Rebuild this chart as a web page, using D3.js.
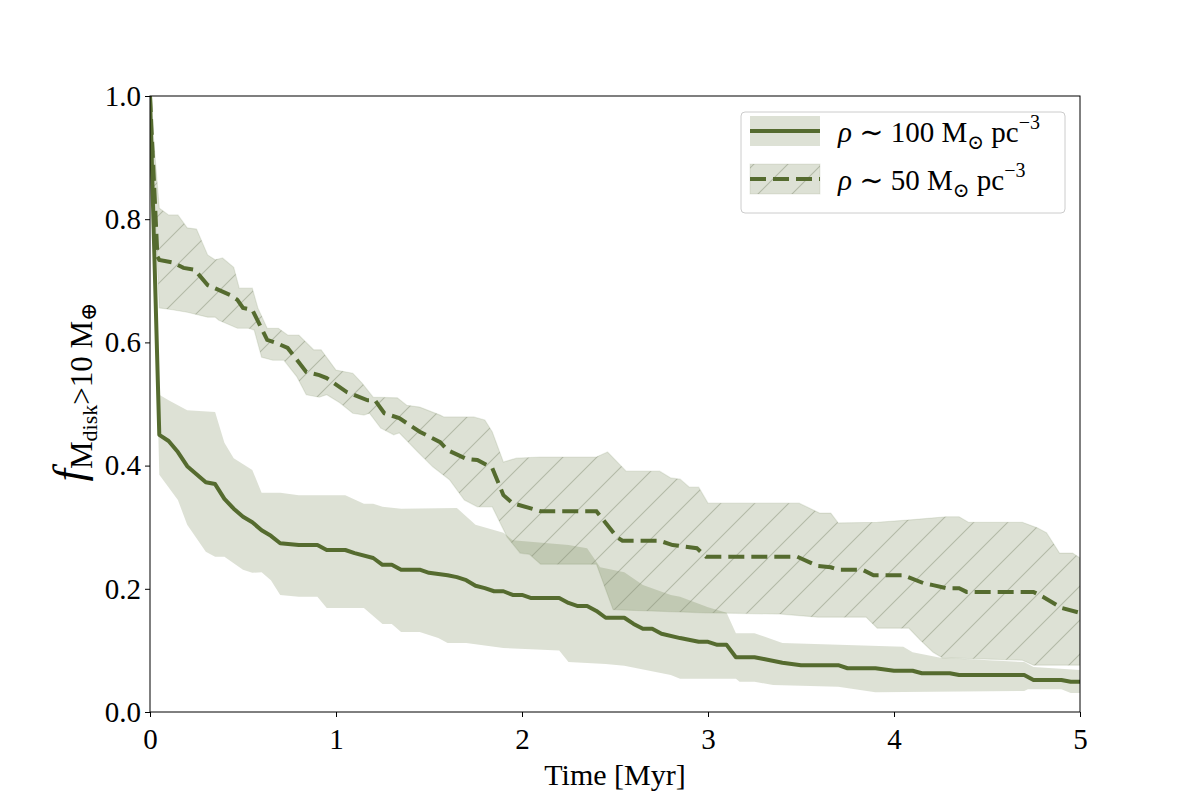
<!DOCTYPE html>
<html>
<head>
<meta charset="utf-8">
<script src="https://cdn.jsdelivr.net/npm/d3@7"></script>
<style>
  body { margin: 0; background: #fff; }
  svg { font-family: "Liberation Serif", "DejaVu Serif", serif; }
</style>
</head>
<body>
<svg id="chart" width="1200" height="800"></svg>
<script>
// rho ~ 100 Msun pc^-3 : median and spread [time Myr, fraction]
const median100 = [[0,1.0],[0.05,0.45],[0.1,0.44],[0.15,0.422],[0.2,0.399],[0.25,0.386],[0.3,0.373],[0.35,0.37],[0.4,0.346],[0.45,0.33],[0.5,0.317],[0.55,0.308],[0.6,0.295],[0.65,0.286],[0.7,0.274],[0.8,0.271],[0.9,0.271],[0.95,0.263],[1.05,0.263],[1.1,0.258],[1.2,0.25],[1.25,0.239],[1.3,0.239],[1.35,0.231],[1.45,0.231],[1.5,0.226],[1.6,0.222],[1.65,0.219],[1.7,0.214],[1.75,0.205],[1.8,0.201],[1.85,0.196],[1.9,0.196],[1.95,0.19],[2.0,0.19],[2.05,0.185],[2.2,0.185],[2.25,0.177],[2.3,0.172],[2.35,0.172],[2.4,0.164],[2.45,0.153],[2.55,0.153],[2.6,0.143],[2.65,0.135],[2.7,0.135],[2.75,0.127],[2.85,0.12],[2.95,0.114],[3.0,0.114],[3.05,0.109],[3.1,0.109],[3.15,0.089],[3.25,0.089],[3.3,0.086],[3.4,0.08],[3.5,0.076],[3.7,0.076],[3.75,0.071],[3.9,0.071],[4.0,0.067],[4.1,0.067],[4.15,0.063],[4.3,0.063],[4.35,0.06],[4.7,0.06],[4.75,0.052],[4.9,0.052],[4.95,0.049],[5.0,0.049]]
const upper100 = [[0,1.0],[0.05,0.515],[0.1,0.506],[0.2,0.49],[0.35,0.487],[0.4,0.437],[0.45,0.412],[0.55,0.393],[0.6,0.356],[0.7,0.356],[0.8,0.352],[1.05,0.352],[1.15,0.338],[1.2,0.338],[1.25,0.333],[1.35,0.33],[1.65,0.331],[1.75,0.304],[1.9,0.291],[1.95,0.279],[2.25,0.271],[2.35,0.266],[2.42,0.235],[2.55,0.227],[2.65,0.206],[2.8,0.19],[2.85,0.187],[3.0,0.17],[3.1,0.161],[3.15,0.128],[3.25,0.128],[3.4,0.112],[4.05,0.106],[4.1,0.097],[4.25,0.088],[4.7,0.081],[4.75,0.073],[5.0,0.068]]
const lower100 = [[0,1.0],[0.05,0.385],[0.15,0.344],[0.2,0.304],[0.3,0.26],[0.35,0.252],[0.4,0.252],[0.5,0.231],[0.55,0.226],[0.6,0.227],[0.65,0.214],[0.7,0.19],[0.8,0.187],[0.9,0.187],[0.95,0.169],[1.15,0.169],[1.25,0.143],[1.3,0.143],[1.35,0.13],[1.45,0.13],[1.55,0.12],[1.6,0.112],[1.7,0.112],[1.9,0.104],[2.2,0.1],[2.25,0.081],[2.45,0.078],[2.55,0.075],[2.8,0.06],[2.85,0.054],[3.15,0.054],[3.17,0.049],[3.25,0.049],[3.35,0.044],[3.7,0.041],[3.9,0.032],[4.7,0.034],[4.72,0.037],[4.9,0.037],[4.95,0.031],[5.0,0.031]]

// rho ~ 50 Msun pc^-3
const median50 = [[0,1.0],[0.04,0.739],[0.05,0.734],[0.12,0.73],[0.18,0.721],[0.24,0.718],[0.31,0.693],[0.43,0.677],[0.47,0.669],[0.5,0.656],[0.55,0.653],[0.63,0.604],[0.68,0.599],[0.74,0.591],[0.84,0.552],[0.91,0.547],[0.95,0.542],[1.06,0.519],[1.17,0.506],[1.21,0.506],[1.26,0.485],[1.34,0.477],[1.45,0.455],[1.56,0.438],[1.6,0.425],[1.7,0.411],[1.76,0.409],[1.84,0.396],[1.9,0.352],[1.95,0.339],[2.1,0.326],[2.4,0.326],[2.51,0.284],[2.54,0.278],[2.74,0.278],[2.81,0.271],[2.94,0.266],[2.99,0.252],[3.48,0.252],[3.59,0.237],[3.66,0.235],[3.7,0.231],[3.83,0.231],[3.89,0.222],[4.05,0.222],[4.16,0.209],[4.21,0.206],[4.28,0.201],[4.35,0.201],[4.39,0.195],[4.75,0.195],[4.8,0.187],[4.9,0.169],[5.0,0.161]]
const upper50 = [[0,1.0],[0.05,0.818],[0.1,0.807],[0.15,0.807],[0.2,0.786],[0.25,0.784],[0.31,0.742],[0.35,0.734],[0.39,0.737],[0.45,0.722],[0.48,0.688],[0.55,0.688],[0.58,0.656],[0.63,0.623],[0.69,0.623],[0.74,0.612],[0.8,0.612],[0.88,0.588],[0.92,0.588],[1.0,0.555],[1.09,0.55],[1.14,0.534],[1.2,0.511],[1.33,0.51],[1.38,0.498],[1.45,0.495],[1.56,0.482],[1.58,0.479],[1.74,0.479],[1.8,0.474],[1.84,0.455],[1.9,0.406],[1.97,0.412],[2.1,0.414],[2.4,0.414],[2.46,0.422],[2.56,0.391],[2.74,0.391],[2.8,0.38],[2.85,0.378],[2.9,0.365],[2.95,0.365],[3.0,0.339],[3.49,0.339],[3.6,0.323],[3.66,0.323],[3.7,0.307],[3.91,0.308],[4.09,0.312],[4.28,0.317],[4.35,0.317],[4.4,0.308],[4.69,0.308],[4.77,0.299],[4.82,0.291],[4.89,0.258],[4.96,0.258],[5.0,0.25]]
const lower50 = [[0,1.0],[0.05,0.656],[0.12,0.653],[0.2,0.649],[0.31,0.641],[0.35,0.641],[0.37,0.636],[0.47,0.623],[0.53,0.623],[0.56,0.62],[0.6,0.576],[0.66,0.571],[0.72,0.571],[0.79,0.544],[0.84,0.515],[0.91,0.511],[0.95,0.515],[1.02,0.502],[1.09,0.485],[1.15,0.482],[1.18,0.485],[1.24,0.461],[1.31,0.45],[1.34,0.453],[1.44,0.422],[1.52,0.398],[1.61,0.377],[1.69,0.344],[1.76,0.333],[1.84,0.333],[1.92,0.284],[1.99,0.258],[2.04,0.256],[2.1,0.24],[2.4,0.24],[2.49,0.166],[2.99,0.161],[3.39,0.159],[3.59,0.154],[3.85,0.154],[3.91,0.136],[4.08,0.136],[4.14,0.117],[4.21,0.097],[4.26,0.088],[4.69,0.084],[4.75,0.076],[5.0,0.076]]

const xTicks = [0, 1, 2, 3, 4, 5]
const yTicks = [0, 0.2, 0.4, 0.6, 0.8, 1.0]

const green = '#556b2f'
const margin = {left: 150, right: 120, top: 96, bottom: 88}
const W = 1200, H = 800

const svg = d3.select('#chart')

const x = d3.scaleLinear().domain([0, 5]).range([margin.left, W - margin.right])
const y = d3.scaleLinear().domain([0, 1]).range([H - margin.bottom, margin.top])

// hatch pattern for the 50 band
const defs = svg.append('defs')
const hatch = defs.append('pattern')
  .attr('id', 'hatch')
  .attr('patternUnits', 'userSpaceOnUse')
  .attr('width', 34).attr('height', 34)
hatch.append('path')
  .attr('d', 'M0,34 L34,0 M-5,5 L5,-5 M29,39 L39,29')
  .attr('stroke', '#7f8a6e').attr('stroke-opacity', 0.45).attr('stroke-width', 1.1)

defs.append('clipPath').attr('id', 'plotclip')
  .append('rect')
  .attr('x', x(0)).attr('y', y(1))
  .attr('width', x(5) - x(0)).attr('height', y(0) - y(1))

const line = d3.line().x(d => x(d[0])).y(d => y(d[1]))
const bandPath = (up, lo) => line(up.concat(lo.slice().reverse())) + 'Z'

const plot = svg.append('g').attr('clip-path', 'url(#plotclip)')

// band rho~100 (no edge)
plot.append('path')
  .attr('d', bandPath(upper100, lower100))
  .attr('fill', green).attr('fill-opacity', 0.2)

// band rho~50 with hatching and edge
plot.append('path')
  .attr('d', bandPath(upper50, lower50))
  .attr('fill', green).attr('fill-opacity', 0.2)
  .attr('stroke', green).attr('stroke-opacity', 0.12).attr('stroke-width', 1.2)
plot.append('path')
  .attr('d', bandPath(upper50, lower50))
  .attr('fill', 'url(#hatch)')

plot.append('path')
  .attr('d', line(median100))
  .attr('fill', 'none').attr('stroke', green).attr('stroke-width', 4)
  .attr('stroke-linejoin', 'round')

plot.append('path')
  .attr('d', line(median50))
  .attr('fill', 'none').attr('stroke', green).attr('stroke-width', 4)
  .attr('stroke-dasharray', '16,7')

// axes
const xAxis = d3.axisBottom(x).tickValues(xTicks).tickFormat(d3.format('d')).tickSize(5).tickSizeOuter(0)
const yAxis = d3.axisLeft(y).tickValues(yTicks).tickFormat(d3.format('.1f')).tickSize(5).tickSizeOuter(0)

const gx = svg.append('g').attr('transform', `translate(0,${y(0)})`).call(xAxis)
const gy = svg.append('g').attr('transform', `translate(${x(0)},0)`).call(yAxis)
gx.select('.domain').remove()
gy.select('.domain').remove()
;[gx, gy].forEach(g => {
  g.selectAll('line').attr('stroke', '#000').attr('stroke-width', 1)
  g.selectAll('text').attr('font-family', '"Liberation Serif", serif').attr('font-size', 29).attr('fill', '#000')
})
gx.selectAll('text').attr('dy', '0.95em').attr('y', 9)
gy.selectAll('text').attr('x', -9)

svg.append('rect')
  .attr('x', x(0)).attr('y', y(1))
  .attr('width', x(5) - x(0)).attr('height', y(0) - y(1))
  .attr('fill', 'none').attr('stroke', '#000').attr('stroke-width', 1)

// axis labels
svg.append('text')
  .attr('x', (x(0) + x(5)) / 2).attr('y', 785)
  .attr('text-anchor', 'middle').attr('font-size', 30)
  .text('Time [Myr]')

const yl = svg.append('text')
  .attr('transform', `translate(84,${(y(0) + y(1)) / 2 - 12}) rotate(-90)`)
  .attr('text-anchor', 'middle')
yl.append('tspan').attr('font-style', 'italic').attr('font-size', 45).text('f')
yl.append('tspan').attr('font-size', 31).attr('dy', 8).text('M')
yl.append('tspan').attr('font-size', 22).attr('dy', 5).text('disk')
yl.append('tspan').attr('font-size', 31).attr('dy', -5).text('>10 M')
yl.append('tspan').attr('font-size', 22).attr('dy', 4).text('⊕')

// legend
const lg = svg.append('g')
lg.append('rect')
  .attr('x', 741).attr('y', 112).attr('width', 324).attr('height', 101)
  .attr('rx', 4).attr('fill', '#fff').attr('fill-opacity', 0.8)
  .attr('stroke', '#ccc').attr('stroke-width', 1)

const legendItems = [
  {label: '100', dashed: false, yc: 131},
  {label: '50', dashed: true, yc: 179}
]
legendItems.forEach(it => {
  lg.append('rect')
    .attr('x', 750).attr('y', it.yc - 15).attr('width', 70).attr('height', 30)
    .attr('fill', green).attr('fill-opacity', 0.2)
    .attr('stroke', it.dashed ? green : 'none').attr('stroke-opacity', 0.12)
  if (it.dashed) {
    lg.append('rect')
      .attr('x', 750).attr('y', it.yc - 15).attr('width', 70).attr('height', 30)
      .attr('fill', 'url(#hatch)')
  }
  lg.append('line')
    .attr('x1', 750).attr('x2', 820).attr('y1', it.yc).attr('y2', it.yc)
    .attr('stroke', green).attr('stroke-width', 4)
    .attr('stroke-dasharray', it.dashed ? '16,7' : null)
  const t = lg.append('text').attr('x', 838).attr('y', it.yc + 11).attr('font-size', 29)
  t.append('tspan').attr('font-style', 'italic').text('ρ')
  t.append('tspan').text(` ∼ ${it.label} M`)
  t.append('tspan').attr('font-size', 20).attr('dy', 7).text('⊙')
  t.append('tspan').attr('dy', -7).text(' pc')
  t.append('tspan').attr('font-size', 20).attr('dy', -13).text('−3')
})
</script>
</body>
</html>
